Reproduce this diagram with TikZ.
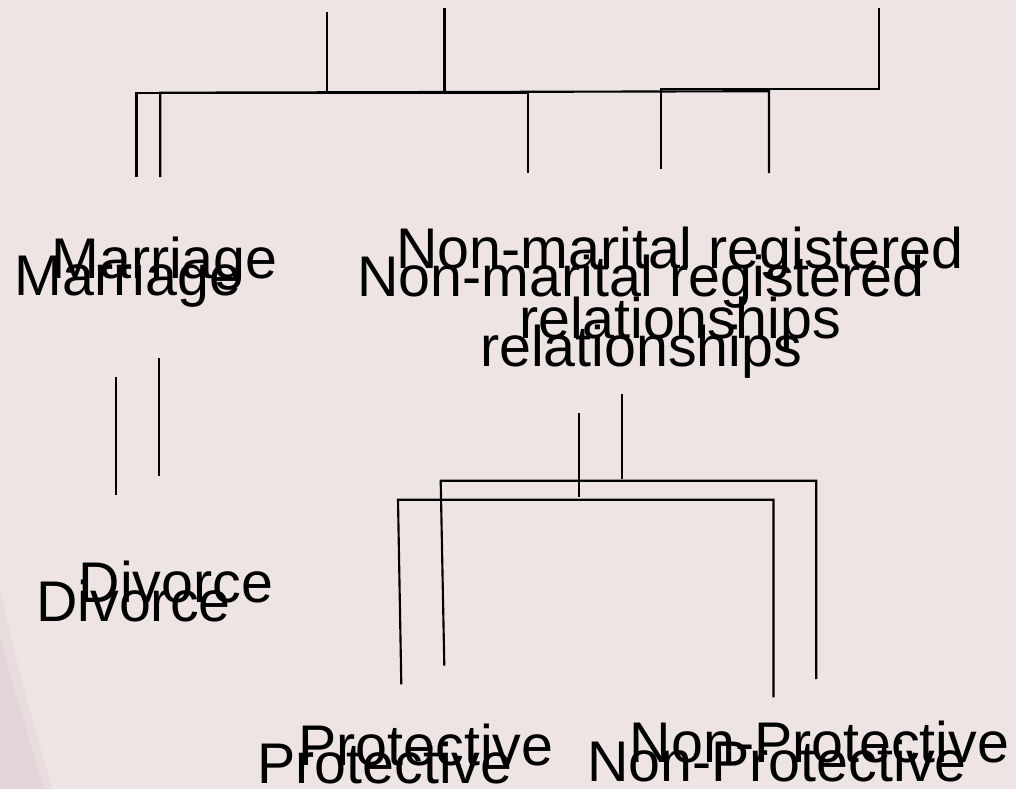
\documentclass[tikz,border=0pt]{standalone}
\usepackage{fontspec}
\setmainfont{Liberation Sans}
\definecolor{bgpink}{RGB}{238,228,228}
\definecolor{wedge}{RGB}{227,212,215}
\definecolor{wedgelight}{RGB}{233,220,222}
\tikzset{
  lbl/.style={inner sep=0pt, anchor=base, font=\fontsize{43}{52.5}\selectfont, align=center},
  conn/.style={draw=black, line width=1.6pt, line cap=butt, line join=miter}
}
\begin{document}
\begin{tikzpicture}[x=0.75pt, y=-0.75pt]
\useasboundingbox (0,0) rectangle (1016,789);
\fill[bgpink] (0,0) rectangle (1016,789);
% faint wedge bottom left
\fill[wedge] (0,590) .. controls (18,675) and (38,740) .. (52,789) -- (0,789) -- cycle;
\fill[wedgelight] (0,590) .. controls (18,675) and (38,740) .. (52,789) -- (44,789) .. controls (30,740) and (12,685) .. (0,635) -- cycle;

% ---- text, copy B (lower) ----
\node[lbl] (marB) at (128,295) {Marriage};
\node[lbl] (nmrB) at (641,366) {Non-marital registered\\relationships};
\node[lbl] (divB) at (133.5,621) {Divorce};
\node[lbl] (proB) at (385,783) {Protective};
\node[lbl] (nprB) at (777,781) {Non-Protective};
% ---- text, copy A (upper) ----
\node[lbl] (marA) at (164.5,278) {Marriage};
\node[lbl] (nmrA) at (680,338) {Non-marital registered\\relationships};
\node[lbl] (divA) at (176,602) {Divorce};
\node[lbl] (proA) at (426,765) {Protective};
\node[lbl] (nprA) at (819.5,762) {Non-Protective};

% ---- top connectors ----
\coordinate (t1a) at (327,12);   \coordinate (t1b) at (327,93);
\coordinate (t2a) at (444.5,8);  \coordinate (t2b) at (444.5,91);
\draw[conn] (t1a) -- (t1b);
\draw[conn] (t2a) -- (t2b);
% bracket B
\coordinate (bB1) at (136.5,177); \coordinate (bB2) at (136.5,92.7);
\coordinate (bB3) at (528,92.7);  \coordinate (bB4) at (528,173);
\draw[conn] (bB1) -- (bB2) -- (bB3) -- (bB4);
% bracket A
\coordinate (bA1) at (160.3,177); \coordinate (bA2) at (160.3,92.7);
\coordinate (bA3) at (769,91.2);  \coordinate (bA4) at (769,173);
\draw[conn] (bA1) -- (bA2) -- (bA3) -- (bA4);
% L bracket
\coordinate (bC1) at (660.7,169); \coordinate (bC2) at (660.7,89.3);
\coordinate (bC3) at (879,89.3);  \coordinate (bC4) at (879,8);
\draw[conn] (bC1) -- (bC2) -- (bC3) -- (bC4);

% ---- marriage to divorce ----
\coordinate (mdB1) at (116,376.5); \coordinate (mdB2) at (116,494.5);
\coordinate (mdA1) at (158.8,358.3); \coordinate (mdA2) at (158.8,476);
\draw[conn] (mdB1) -- (mdB2);
\draw[conn] (mdA1) -- (mdA2);

% ---- lower brackets ----
\coordinate (sB1) at (579,413.3); \coordinate (sB2) at (579,497.3);
\coordinate (sA1) at (622,394.3); \coordinate (sA2) at (622,479);
\draw[conn] (sB1) -- (sB2);
\draw[conn] (sA1) -- (sA2);
\coordinate (lB1) at (401.3,684.3); \coordinate (lB2) at (398,499.7);
\coordinate (lB3) at (773.5,499.7); \coordinate (lB4) at (773.5,697.3);
\draw[conn] (lB1) -- (lB2) -- (lB3) -- (lB4);
\coordinate (lA1) at (444.3,665.7); \coordinate (lA2) at (440.7,480.7);
\coordinate (lA3) at (816.3,480.7); \coordinate (lA4) at (816.3,679);
\draw[conn] (lA1) -- (lA2) -- (lA3) -- (lA4);
\end{tikzpicture}
\end{document}
